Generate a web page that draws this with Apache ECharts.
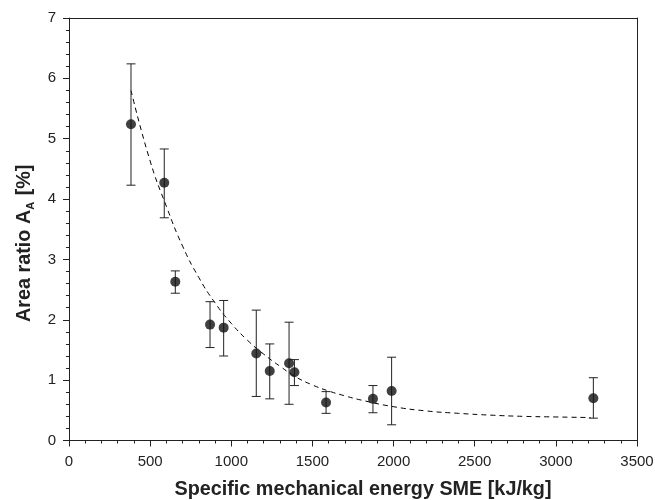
<!DOCTYPE html>
<html><head><meta charset="utf-8">
<script src="https://cdn.jsdelivr.net/npm/echarts@6/dist/echarts.min.js"></script>
<style>html,body{margin:0;padding:0;background:#fff}#c{width:655px;height:500px}</style>
</head><body><div id="c"></div>
<script>
const sme   = [382, 587, 655, 869, 953, 1154, 1237, 1356, 1389, 1584, 1873, 1988, 3231];
const area  = [5.24, 4.27, 2.63, 1.92, 1.87, 1.44, 1.15, 1.28, 1.13, 0.63, 0.69, 0.82, 0.70];
const errLo = [4.23, 3.69, 2.44, 1.54, 1.40, 0.73, 0.69, 0.60, 0.91, 0.45, 0.46, 0.26, 0.37];
const errHi = [6.24, 4.83, 2.81, 2.30, 2.32, 2.16, 1.60, 1.96, 1.34, 0.81, 0.91, 1.38, 1.04];
const fitX  = [382, 500, 600, 700, 800, 900, 1000, 1100, 1200, 1300, 1400, 1500, 1600, 1700, 1800, 2000, 2200, 2400, 2600, 2800, 3000, 3215];
const fitY  = [5.80, 4.63, 3.88, 3.22, 2.70, 2.28, 1.94, 1.66, 1.43, 1.23, 1.05, 0.92, 0.82, 0.74, 0.67, 0.56, 0.49, 0.45, 0.42, 0.40, 0.39, 0.38];
const xTicks = {min: 0, max: 3500, step: 500};
const yTicks = {min: 0, max: 7, step: 1};

const chart = echarts.init(document.getElementById('c'), null, {renderer: 'canvas'});
const font = 'Liberation Sans, Arial, sans-serif';
const lineCol = '#222';
const axisCommon = {
  axisLine: {show: true, onZero: false, lineStyle: {color: lineCol, width: 1}},
  axisTick: {show: true, inside: false, length: 6, lineStyle: {color: lineCol}},
  minorTick: {show: true, splitNumber: 5, length: 3, lineStyle: {color: lineCol}},
  splitLine: {show: false}
};
chart.setOption({
  animation: false,
  grid: {left: 69, right: 18, top: 18, bottom: 59.5, containLabel: false, outerBoundsMode: 'none'},
  xAxis: [
    Object.assign({}, axisCommon, {type: 'value', min: xTicks.min, max: xTicks.max, interval: xTicks.step,
      name: 'Specific mechanical energy SME [kJ/kg]', nameLocation: 'middle', nameGap: 39,
      nameTextStyle: {fontSize: 19.8, fontWeight: 'bold', color: '#222', fontFamily: font, padding: [0, 0, 0, 20]},
      axisLabel: {color: '#222', fontSize: 15, fontFamily: font, margin: 14, formatter: v => String(v)}}),
    {type: 'value', position: 'top', min: xTicks.min, max: xTicks.max,
      axisLine: {show: true, onZero: false, lineStyle: {color: lineCol}},
      axisTick: {show: false}, axisLabel: {show: false}, splitLine: {show: false}}
  ],
  yAxis: [
    Object.assign({}, axisCommon, {type: 'value', min: yTicks.min, max: yTicks.max, interval: yTicks.step,
      name: 'Area ratio A{sub|A} [%]', nameLocation: 'middle', nameGap: 32,
      nameTextStyle: {fontSize: 19.8, fontWeight: 'bold', color: '#222', fontFamily: font, padding: [0, 28, 0, 0],
        rich: {sub: {fontSize: 11, fontWeight: 'bold', color: '#222', fontFamily: font, verticalAlign: 'bottom', padding: [14, 1, 0, 0]}}},
      axisLabel: {color: '#222', fontSize: 15, fontFamily: font, margin: 13}}),
    {type: 'value', position: 'right', min: yTicks.min, max: yTicks.max,
      axisLine: {show: true, onZero: false, lineStyle: {color: lineCol}},
      axisTick: {show: false}, axisLabel: {show: false}, splitLine: {show: false}}
  ],
  series: [
    {type: 'line', data: fitX.map((x, i) => [x, fitY[i]]), symbol: 'none', smooth: true,
      lineStyle: {color: '#000', width: 1, type: [5, 4]}, z: 2},
    {type: 'custom', data: sme.map((x, i) => [x, errLo[i], errHi[i]]), z: 3,
      renderItem: function (params, api) {
        const lo = api.coord([api.value(0), api.value(1)]);
        const hi = api.coord([api.value(0), api.value(2)]);
        const w = 4.5;
        const st = {stroke: '#222', lineWidth: 1};
        return {type: 'group', children: [
          {type: 'line', shape: {x1: lo[0], y1: lo[1], x2: hi[0], y2: hi[1]}, style: st},
          {type: 'line', shape: {x1: lo[0] - w, y1: lo[1], x2: lo[0] + w, y2: lo[1]}, style: st},
          {type: 'line', shape: {x1: hi[0] - w, y1: hi[1], x2: hi[0] + w, y2: hi[1]}, style: st}
        ]};
      }},
    {type: 'scatter', data: sme.map((x, i) => [x, area[i]]), symbol: 'circle', symbolSize: 10,
      itemStyle: {color: '#111'}, z: 4}
  ]
});
</script></body></html>
